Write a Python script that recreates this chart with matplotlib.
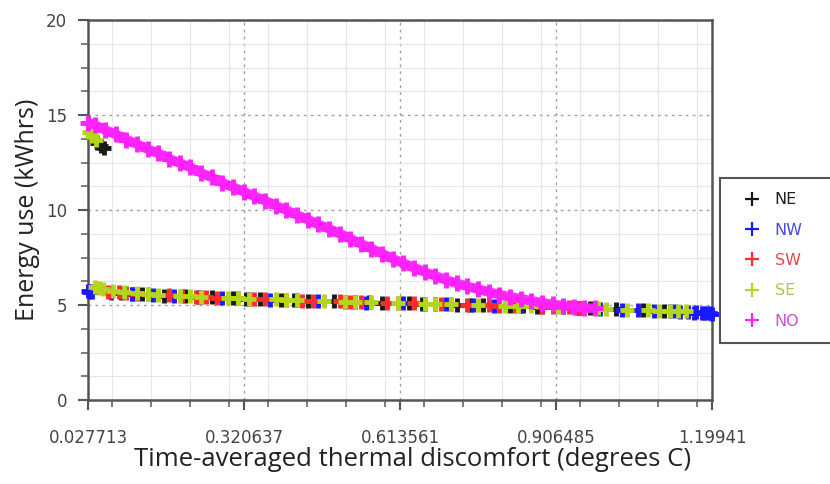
import matplotlib
matplotlib.use("Agg")
import matplotlib.pyplot as plt
from matplotlib.ticker import FixedLocator, FixedFormatter, MultipleLocator
from matplotlib.patches import Rectangle
from matplotlib.lines import Line2D

# ---------------- data ----------------
x_ticks = [0.027713, 0.320637, 0.613561, 0.906485, 1.19941]
x_tick_labels = ["0.027713", "0.320637", "0.613561", "0.906485", "1.19941"]
y_ticks = [0, 5, 10, 15, 20]

series_names = ["NE", "NW", "SW", "SE", "NO"]

ne_x = [0.045, 0.052, 0.058, 0.09, 0.11, 0.13, 0.17, 0.21, 0.235, 0.26, 0.30, 0.325,
        0.35, 0.39, 0.415, 0.44, 0.49, 0.53, 0.555, 0.58, 0.63, 0.655, 0.68, 0.72,
        0.745, 0.77, 0.82, 0.845, 0.87, 0.92, 0.945, 0.97, 1.02, 1.07, 1.11]
ne_y = [13.55, 13.35, 13.25, 5.64, 5.60, 5.57, 5.50, 5.47, 5.43, 5.40, 5.35, 5.33,
        5.31, 5.27, 5.25, 5.22, 5.19, 5.17, 5.14, 5.12, 5.08, 5.07, 5.06, 5.02,
        5.01, 4.99, 4.95, 4.94, 4.92, 4.87, 4.86, 4.83, 4.78, 4.72, 4.69]

nw_x = [0.028, 0.030, 0.033, 0.036, 0.07, 0.11, 0.15, 0.19, 0.24, 0.28, 0.33, 0.37,
        0.42, 0.46, 0.51, 0.55, 0.62, 0.66, 0.70, 0.75, 0.79, 0.84, 0.88, 0.95,
        0.99, 1.03, 1.06, 1.09, 1.12, 1.13, 1.14, 1.155, 1.165, 1.17, 1.18, 1.185,
        1.19, 1.195, 1.199]
nw_y = [5.72, 5.66, 5.76, 5.70, 5.64, 5.58, 5.52, 5.48, 5.41, 5.36, 5.30, 5.26,
        5.24, 5.20, 5.17, 5.13, 5.08, 5.06, 5.03, 5.00, 4.97, 4.93, 4.90, 4.85,
        4.80, 4.76, 4.73, 4.70, 4.67, 4.66, 4.65, 4.63, 4.60, 4.61, 4.59, 4.56,
        4.57, 4.58, 4.54]

sw_x = [0.065, 0.085, 0.10, 0.12, 0.14, 0.18, 0.205, 0.23, 0.25, 0.27, 0.31, 0.34,
        0.36, 0.40, 0.43, 0.45, 0.50, 0.52, 0.54, 0.59, 0.61, 0.64, 0.69, 0.71,
        0.74, 0.78, 0.80, 0.83, 0.88, 0.90, 0.93, 0.95, 0.98]
sw_y = [5.70, 5.66, 5.62, 5.60, 5.56, 5.52, 5.48, 5.44, 5.40, 5.39, 5.35, 5.31,
        5.29, 5.26, 5.23, 5.21, 5.19, 5.16, 5.15, 5.12, 5.11, 5.08, 5.05, 5.04,
        5.01, 4.98, 4.97, 4.94, 4.91, 4.89, 4.87, 4.86, 4.84]

se_x = [0.030, 0.036, 0.042, 0.040, 0.048, 0.055, 0.075, 0.095, 0.12, 0.14, 0.16,
        0.20, 0.22, 0.24, 0.29, 0.31, 0.33, 0.38, 0.40, 0.42, 0.47, 0.51, 0.53,
        0.56, 0.61, 0.66, 0.68, 0.71, 0.76, 0.81, 0.835, 0.86, 0.91, 0.96, 0.985,
        1.00, 1.04, 1.08, 1.10, 1.12, 1.135, 1.15]
se_y = [14.10, 13.90, 13.70, 5.95, 5.90, 5.86, 5.76, 5.70, 5.62, 5.58, 5.55,
        5.49, 5.46, 5.44, 5.38, 5.36, 5.33, 5.29, 5.27, 5.25, 5.21, 5.18, 5.16,
        5.14, 5.10, 5.07, 5.06, 5.04, 5.00, 4.96, 4.95, 4.93, 4.89, 4.84, 4.82,
        4.80, 4.76, 4.72, 4.70, 4.68, 4.67, 4.66]

no_x = [0.028, 0.04, 0.06, 0.08, 0.10, 0.12, 0.14, 0.16, 0.18, 0.20, 0.22, 0.24,
        0.26, 0.28, 0.30, 0.32, 0.34, 0.36, 0.38, 0.40, 0.42, 0.44, 0.46, 0.48,
        0.50, 0.52, 0.54, 0.56, 0.58, 0.60, 0.62, 0.64, 0.66, 0.68, 0.70, 0.72,
        0.74, 0.76, 0.78, 0.80, 0.82, 0.84, 0.86, 0.88, 0.90, 0.92, 0.94, 0.96,
        0.98]
no_y = [14.60, 14.48, 14.22, 13.98, 13.70, 13.47, 13.20, 12.98, 12.70, 12.47,
        12.24, 11.95, 11.72, 11.44, 11.20, 10.97, 10.72, 10.50, 10.23, 10.00,
        9.74, 9.50, 9.24, 9.02, 8.76, 8.50, 8.22, 7.97, 7.70, 7.43, 7.20, 6.96,
        6.74, 6.53, 6.32, 6.14, 5.98, 5.84, 5.68, 5.55, 5.43, 5.33, 5.22, 5.12,
        5.03, 4.96, 4.90, 4.85, 4.82]

# ---------------- styling ----------------
colors = {"NE": "#1a1a1a", "NW": "#1a1aff", "SW": "#ff2a2a", "SE": "#b4d61a", "NO": "#ff22ff"}
text_colors = {"NE": "#222222", "NW": "#4a4ae0", "SW": "#e84848", "SE": "#a8c850", "NO": "#d050d0"}

W, H = 830, 484
fig = plt.figure(figsize=(W / 100, H / 100), dpi=100)
ax = fig.add_axes([88 / W, 1 - 400 / H, (712 - 88) / W, (400 - 20) / H])

data = [(ne_x, ne_y, "NE"), (nw_x, nw_y, "NW"), (sw_x, sw_y, "SW"),
        (se_x, se_y, "SE"), (no_x, no_y, "NO")]
for xs, ys, name in data:
    if name == "NO":
        ax.plot(xs, ys, linestyle="-", linewidth=7, color=colors[name], alpha=0.9,
                solid_capstyle="butt", zorder=3, clip_on=False)
        ax.plot(xs, ys, linestyle="none", marker="+", markersize=11,
                markeredgewidth=3.5, color=colors[name], zorder=3, clip_on=False)
    else:
        ax.plot(xs, ys, linestyle="none", marker="+", markersize=10,
                markeredgewidth=3.5, color=colors[name], zorder=3, clip_on=False)

ax.set_xlim(x_ticks[0], x_ticks[-1])
ax.set_ylim(0, 20)

ax.xaxis.set_major_locator(FixedLocator(x_ticks))
ax.xaxis.set_major_formatter(FixedFormatter(x_tick_labels))
ax.xaxis.set_minor_locator(MultipleLocator((x_ticks[1] - x_ticks[0]) / 4))
ax.yaxis.set_major_locator(FixedLocator(y_ticks))
ax.yaxis.set_minor_locator(MultipleLocator(1.25))

ax.grid(which="minor", color="#e6e6e6", linewidth=0.8, linestyle="-", zorder=0)
ax.grid(which="major", color="#a0a0a0", linewidth=1.0, linestyle=(0, (2, 3)), zorder=1)
ax.set_axisbelow(True)

for sp in ax.spines.values():
    sp.set_color("#555555")
    sp.set_linewidth(1.8)

ax.tick_params(which="major", direction="out", length=7, width=1.5, color="#555555",
               labelsize=12, labelcolor="#444444")
ax.tick_params(axis="x", which="major", pad=14)
ax.tick_params(axis="y", which="major", pad=8)
ax.tick_params(which="minor", direction="out", length=5, width=1.2, color="#666666")

ax.set_xlabel("Time-averaged thermal discomfort (degrees C)", fontsize=18.5,
              family="Open Sans", color="#222222", labelpad=2)
ax.xaxis.set_label_coords(0.52, -0.125)
ax.set_ylabel("Energy use (kWhrs)", fontsize=18, family="Open Sans",
              color="#222222", labelpad=4)

# legend box (extends past the right edge, as in the reference)
rect = Rectangle((720 / W, 1 - 343 / H), 130 / W, (343 - 178) / H,
                 transform=fig.transFigure, facecolor="white", edgecolor="#555555",
                 linewidth=1.5, zorder=5)
fig.patches.append(rect)
handles = [Line2D([], [], linestyle="none", marker="+", markersize=10,
                  markeredgewidth=1.6, color=colors[n]) for n in series_names]
leg = fig.legend(handles, series_names, loc="upper left",
                 bbox_to_anchor=(738 / W, 1 - 186 / H), frameon=False,
                 fontsize=11.5, handlelength=1.0, handletextpad=0.9,
                 labelspacing=0.96, borderaxespad=0)
for t, n in zip(leg.get_texts(), series_names):
    t.set_color(text_colors[n])
leg.set_zorder(6)

fig.savefig("out.png", dpi=100, facecolor="white")
